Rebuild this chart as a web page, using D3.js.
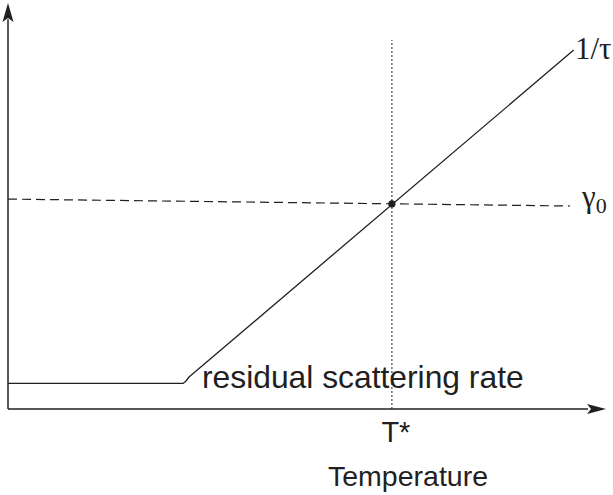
<!DOCTYPE html>
<html>
<head>
<meta charset="utf-8">
<script src="https://cdn.jsdelivr.net/npm/d3@7"></script>
<style>
  html, body { margin: 0; padding: 0; background: #fff; }
  svg { display: block; }
</style>
</head>
<body>
<div id="chart"></div>
<script>
// ---- data (temperature in arbitrary units 0..100, rate in arbitrary units 0..100) ----
const rateCurveT     = [0, 29.26, 29.77, 30.27, 94.6];
const rateCurveValue = [6.3, 6.3, 6.9, 7.88, 88.4];
const gammaT         = [0, 94.0];
const gammaValue     = [51.7, 50.0];
const tStar          = 64.2;
const tStarRate      = 50.5;
const tStarLineTop   = 90.9;
const labels = {
  rate: "1/τ",
  gamma: "γ",
  gammaSub: "0",
  residual: "residual scattering rate",
  tStar: "T*",
  xTitle: "Temperature"
};

const W = 613, H = 495;
const ink = "#231f20";
const svg = d3.select("#chart").append("svg").attr("width", W).attr("height", H);

const x = d3.scaleLinear().domain([0, 100]).range([8, 606]);
const y = d3.scaleLinear().domain([0, 100]).range([409, 3]);

// axes
svg.append("line").attr("x1", x(0)).attr("y1", y(0)).attr("x2", x(0)).attr("y2", y(96))
  .attr("stroke", ink).attr("stroke-width", 1.5);
svg.append("line").attr("x1", x(0)).attr("y1", y(0)).attr("x2", x(97)).attr("y2", y(0))
  .attr("stroke", ink).attr("stroke-width", 1.5);
// arrowheads
const yTipX = x(0), yTipY = y(100);
svg.append("path")
  .attr("d", `M${yTipX},${yTipY} L${yTipX + 5.5},${yTipY + 19} L${yTipX},${yTipY + 15} L${yTipX - 5.5},${yTipY + 19} Z`)
  .attr("fill", ink);
const xTipX = x(100), xTipY = y(0);
svg.append("path")
  .attr("d", `M${xTipX},${xTipY} L${xTipX - 19},${xTipY - 5} L${xTipX - 15},${xTipY} L${xTipX - 19},${xTipY + 5} Z`)
  .attr("fill", ink);

// dashed gamma line
svg.append("path")
  .datum(gammaT.map((t, i) => [t, gammaValue[i]]))
  .attr("d", d3.line().x(d => x(d[0])).y(d => y(d[1])))
  .attr("fill", "none").attr("stroke", ink).attr("stroke-width", 1.2)
  .attr("stroke-dasharray", "9,5");

// dotted T* line
svg.append("line")
  .attr("x1", x(tStar)).attr("x2", x(tStar))
  .attr("y1", y(0)).attr("y2", y(tStarLineTop))
  .attr("stroke", ink).attr("stroke-width", 1).attr("stroke-dasharray", "2,2");

// rate curve
svg.append("path")
  .datum(rateCurveT.map((t, i) => [t, rateCurveValue[i]]))
  .attr("d", d3.line().x(d => x(d[0])).y(d => y(d[1])))
  .attr("fill", "none").attr("stroke", ink).attr("stroke-width", 1.3)
  .attr("stroke-linejoin", "round");

// intersection dot
svg.append("circle").attr("cx", x(tStar)).attr("cy", y(tStarRate)).attr("r", 3.6).attr("fill", ink);

// labels
svg.append("text").attr("x", 575).attr("y", 59)
  .attr("font-family", "'Liberation Serif', 'DejaVu Serif', serif").attr("font-size", 31)
  .attr("fill", ink).text(labels.rate);

const g = svg.append("text").attr("x", 582).attr("y", 207)
  .attr("font-family", "'Liberation Serif', 'DejaVu Serif', serif").attr("font-size", 31)
  .attr("fill", ink);
g.append("tspan").text(labels.gamma);
g.append("tspan").attr("font-size", 22).attr("dy", 6).text(labels.gammaSub);

svg.append("text").attr("x", 202).attr("y", 388)
  .attr("font-family", "'Liberation Sans', Arial, sans-serif").attr("font-size", 31.8)
  .attr("fill", ink).text(labels.residual);

svg.append("text").attr("x", x(tStar) + 4).attr("y", 442).attr("text-anchor", "middle")
  .attr("font-family", "'Liberation Sans', Arial, sans-serif").attr("font-size", 29)
  .attr("fill", ink).text(labels.tStar);

svg.append("text").attr("x", 408).attr("y", 486).attr("text-anchor", "middle")
  .attr("font-family", "'Liberation Sans', Arial, sans-serif").attr("font-size", 28.5)
  .attr("fill", ink).text(labels.xTitle);
</script>
</body>
</html>
